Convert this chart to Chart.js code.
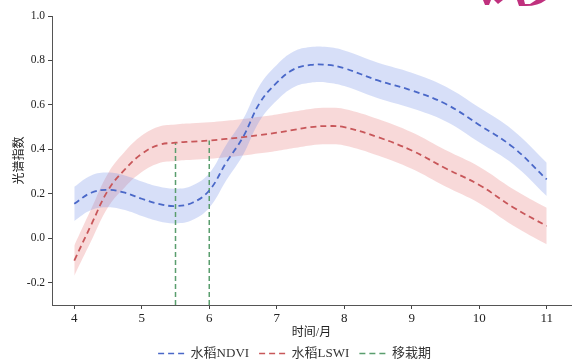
<!DOCTYPE html>
<html>
<head>
<meta charset="utf-8">
<script src="https://cdn.jsdelivr.net/npm/chart.js@4"></script>
<style>
  html, body { margin: 0; padding: 0; background: #fff; }
  #wrap { width: 581px; height: 364px; }
</style>
</head>
<body>
<div id="wrap"><canvas id="grafico"></canvas></div>
<script>
// data
const meses = [4, 4.25, 4.5, 4.75, 5, 5.25, 5.5, 5.75, 6, 6.25, 6.5, 6.75, 7, 7.25, 7.5, 7.75, 8, 8.5, 9, 9.5, 10, 10.5, 11];
const ndvi = [0.155, 0.205, 0.218, 0.205, 0.178, 0.155, 0.145, 0.16, 0.215, 0.34, 0.455, 0.61, 0.70, 0.76, 0.78, 0.78, 0.765, 0.71, 0.665, 0.605, 0.51, 0.41, 0.265];
const ndviFaixa = [0.077, 0.078, 0.078, 0.078, 0.078, 0.078, 0.078, 0.078, 0.078, 0.08, 0.08, 0.08, 0.08, 0.08, 0.08, 0.08, 0.08, 0.08, 0.08, 0.078, 0.078, 0.076, 0.075];
const lswi = [-0.1, 0.06, 0.216, 0.31, 0.38, 0.42, 0.43, 0.435, 0.44, 0.447, 0.455, 0.465, 0.475, 0.488, 0.50, 0.505, 0.50, 0.455, 0.395, 0.315, 0.24, 0.14, 0.055];
const lswiFaixa = [0.068, 0.072, 0.076, 0.08, 0.082, 0.082, 0.082, 0.082, 0.082, 0.082, 0.082, 0.082, 0.082, 0.082, 0.082, 0.082, 0.082, 0.082, 0.082, 0.082, 0.082, 0.082, 0.082];
const transplante = [5.5, 6];
const topoTransplante = [0.43, 0.44];
const ticksX = [4, 5, 6, 7, 8, 9, 10, 11];
const ticksY = [-0.2, 0, 0.2, 0.4, 0.6, 0.8, 1.0];

const fonteSerif = "'Liberation Serif', 'Times New Roman', 'Noto Sans CJK SC', serif";

function pontos(ys) {
  return meses.map((m, i) => ({ x: m, y: ys[i] }));
}
function faixa(ys, d, sinal) {
  return meses.map((m, i) => ({ x: m, y: ys[i] + sinal * d[i] }));
}

const linhaBase = {
  pointRadius: 0,
  borderWidth: 1.8,
  borderDash: [6, 4],
  tension: 0.4,
  fill: false
};

const datasets = [
  Object.assign({ label: '水稻NDVI', data: pontos(ndvi), borderColor: '#4a68c8', backgroundColor: '#4a68c8' }, linhaBase),
  Object.assign({ label: '水稻LSWI', data: pontos(lswi), borderColor: '#c8575a', backgroundColor: '#c8575a' }, linhaBase)
];

transplante.forEach((m, i) => {
  datasets.push({
    label: i === 0 ? '移栽期' : '_移栽期',
    data: [{ x: m, y: -0.3 }, { x: m, y: topoTransplante[i] }],
    borderColor: '#5a9e6e',
    backgroundColor: '#5a9e6e',
    borderWidth: 1.5,
    borderDash: [5, 3],
    pointRadius: 0,
    fill: false
  });
});

// bands (upper then lower filled to previous)
datasets.push(
  { label: '_ndviSup', data: faixa(ndvi, ndviFaixa, 1), borderWidth: 0, pointRadius: 0, tension: 0.4, fill: false, borderColor: 'rgba(0,0,0,0)' },
  { label: '_ndviInf', data: faixa(ndvi, ndviFaixa, -1), borderWidth: 0, pointRadius: 0, tension: 0.4, fill: '-1', borderColor: 'rgba(0,0,0,0)', backgroundColor: 'rgba(110,140,230,0.28)' },
  { label: '_lswiSup', data: faixa(lswi, lswiFaixa, 1), borderWidth: 0, pointRadius: 0, tension: 0.4, fill: false, borderColor: 'rgba(0,0,0,0)' },
  { label: '_lswiInf', data: faixa(lswi, lswiFaixa, -1), borderWidth: 0, pointRadius: 0, tension: 0.4, fill: '-1', borderColor: 'rgba(0,0,0,0)', backgroundColor: 'rgba(230,120,120,0.28)' }
);

// pedaço do logo cortado no canto
const marcaDagua = {
  id: 'marcaDagua',
  afterDraw(chart) {
    const c = chart.ctx;
    c.save();
    c.fillStyle = '#c0317e';
    c.beginPath();
    c.moveTo(483, 0); c.lineTo(491, 0); c.lineTo(489, 5); c.lineTo(485, 5); c.closePath();
    c.fill();
    c.beginPath();
    c.moveTo(494, 0); c.lineTo(503, 0); c.lineTo(498, 4); c.closePath();
    c.fill();
    c.beginPath();
    c.moveTo(517, 0); c.lineTo(546, 0); c.quadraticCurveTo(538, 6, 526, 6); c.lineTo(519, 6); c.closePath();
    c.fill();
    c.fillStyle = '#fff';
    c.beginPath();
    c.moveTo(524, 0); c.lineTo(536, 0); c.lineTo(530, 4); c.lineTo(525, 4); c.closePath();
    c.fill();
    c.restore();
  }
};

const grafico = new Chart(document.getElementById('grafico'), {
  type: 'line',
  data: { datasets: datasets },
  plugins: [marcaDagua],
  options: {
    responsive: true,
    maintainAspectRatio: false,
    animation: false,
    layout: { padding: { left: 0, right: 10, top: 16, bottom: 0 } },
    plugins: {
      legend: {
        position: 'bottom',
        labels: {
          filter: item => !item.text.startsWith('_'),
          generateLabels: chart => {
            const itens = Chart.defaults.plugins.legend.labels.generateLabels(chart);
            itens.forEach(it => {
              const ds = chart.data.datasets[it.datasetIndex];
              it.lineDash = [6, 4];
              it.lineWidth = 1.6;
              it.strokeStyle = ds.borderColor;
            });
            return itens;
          },
          usePointStyle: true,
          pointStyle: 'line',
          pointStyleWidth: 26,
          boxHeight: 8,
          padding: 10,
          color: '#333',
          font: { family: fonteSerif, size: 13 }
        }
      },
      tooltip: { enabled: false }
    },
    scales: {
      x: {
        type: 'linear',
        min: 3.67,
        max: 11.36,
        afterBuildTicks: axis => { axis.ticks = ticksX.map(v => ({ value: v })); },
        afterFit: axis => { axis.height = 32; },
        grid: { drawOnChartArea: false, drawTicks: true, tickLength: 4, color: '#444', tickWidth: 1 },
        border: { color: '#555', width: 1 },
        ticks: { color: '#222', font: { family: fonteSerif, size: 13 }, padding: 2, maxRotation: 0 },
        title: { display: true, text: '时间/月', color: '#222', font: { family: fonteSerif, size: 12 }, padding: { top: 0, bottom: -3 } }
      },
      y: {
        min: -0.3,
        max: 1.0,
        afterBuildTicks: axis => { axis.ticks = ticksY.map(v => ({ value: v })); },
        afterFit: axis => { axis.width = 52; },
        grid: { drawOnChartArea: false, drawTicks: true, tickLength: 4, color: '#444', tickWidth: 1 },
        border: { color: '#555', width: 1 },
        ticks: { color: '#222', font: { family: fonteSerif, size: 11.5 }, padding: 3, callback: v => v.toFixed(1) },
        title: { display: true, text: '光谱指数', color: '#222', font: { family: fonteSerif, size: 12 }, padding: { top: 13, bottom: 0 } }
      }
    }
  }
});

// legenda mais baixa: altura fixa para o eixo x terminar em y=305
const fitOriginal = grafico.legend.fit;
grafico.legend.fit = function () {
  fitOriginal.call(this);
  this.height = 27;
};
// e um pouco mais para a direita, como no original
const drawOriginal = grafico.legend.draw;
grafico.legend.draw = function () {
  const c = this.ctx;
  c.save();
  c.translate(9, 0);
  drawOriginal.call(this);
  c.restore();
};
grafico.update();
</script>
</body>
</html>
